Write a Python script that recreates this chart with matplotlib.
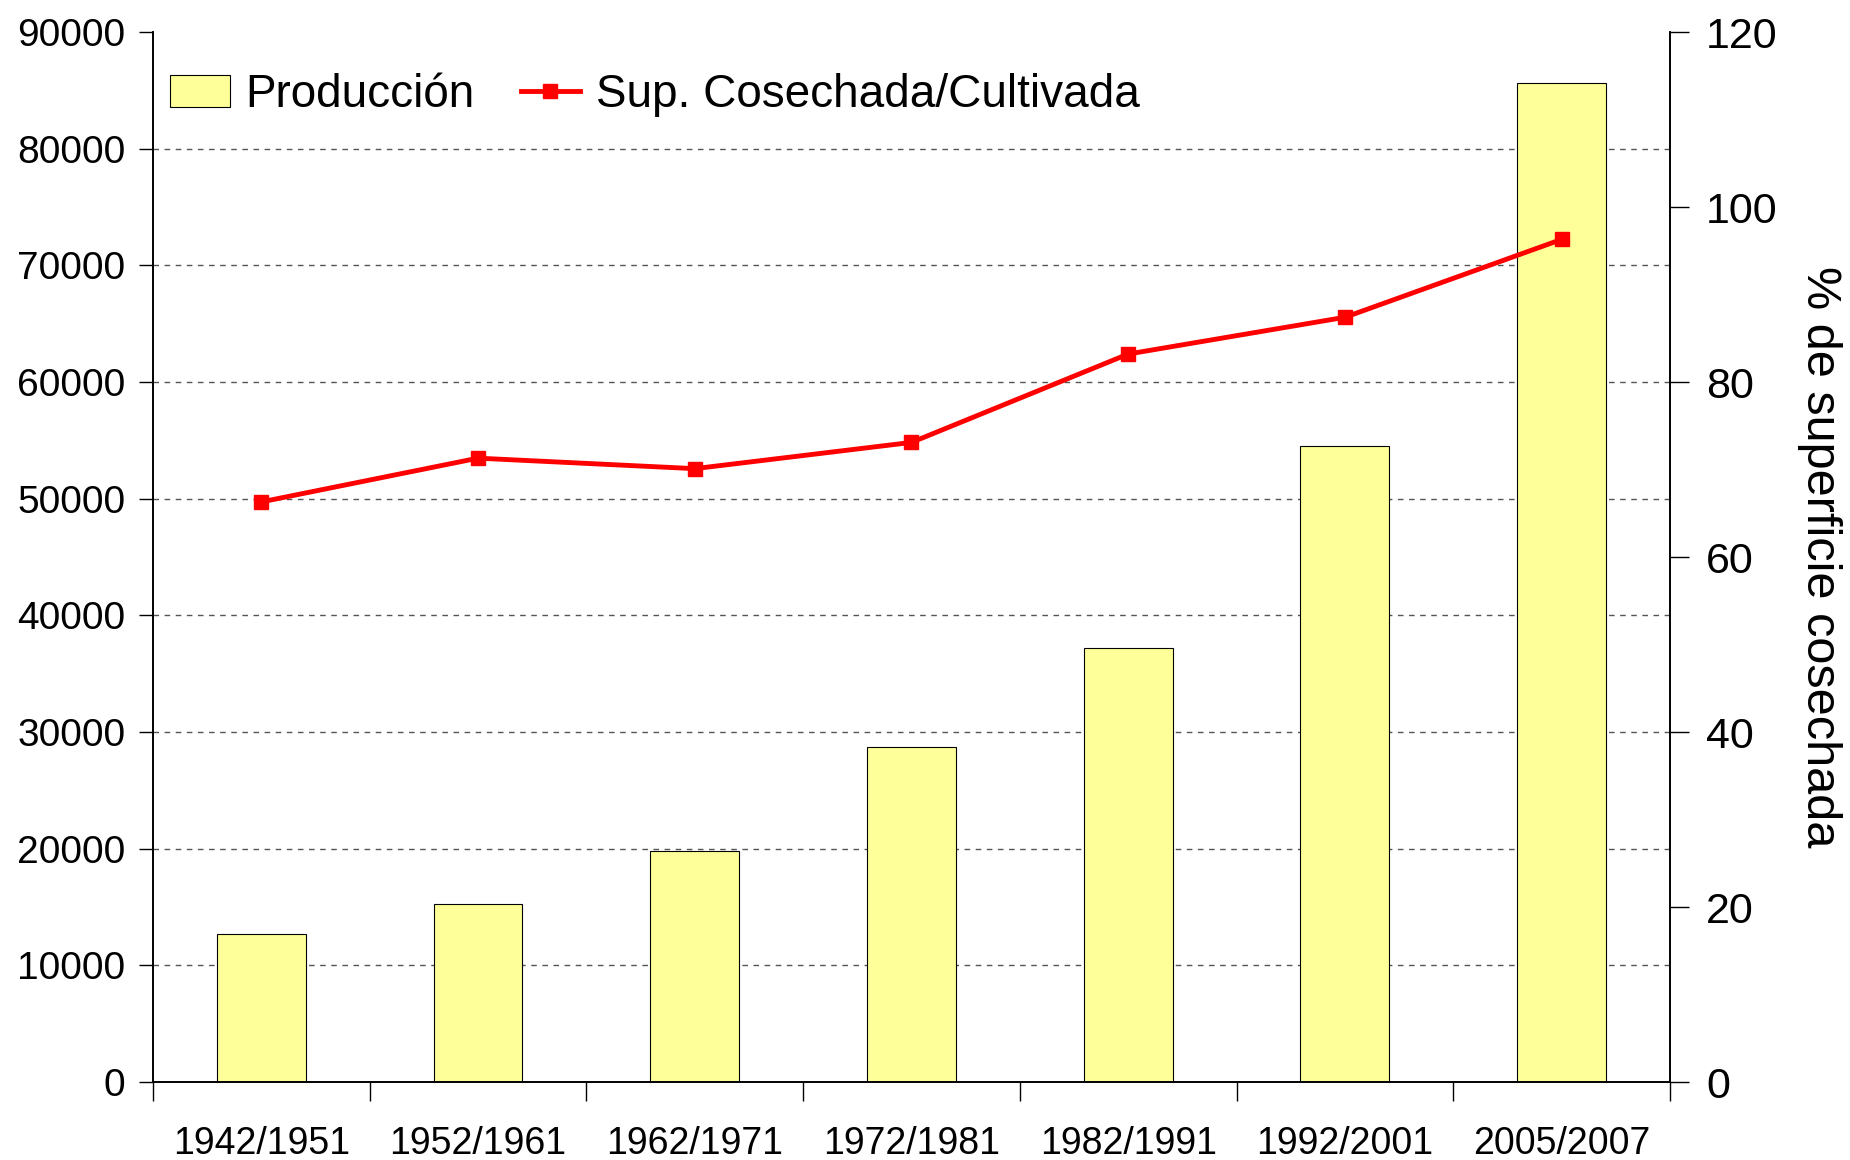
import matplotlib
matplotlib.use("Agg")
import matplotlib.pyplot as plt
import numpy as np

periods = ["1942/1951", "1952/1961", "1962/1971", "1972/1981", "1982/1991", "1992/2001", "2005/2007"]
produccion = [12650, 15300, 19800, 28700, 37200, 54500, 85600]
sup_ratio = [66.3, 71.3, 70.1, 73.1, 83.2, 87.4, 96.3]

wide = ["Liberation Sans", "DejaVu Sans"]

fig = plt.figure(figsize=(18.5, 11.6), dpi=100)
ax = fig.add_axes([0.0827, 0.0672, 0.82, 0.9052])
ax2 = ax.twinx()

x = np.arange(len(periods))
ax.bar(x, produccion, width=0.41, color="#FFFF99", edgecolor="black", linewidth=0.8, zorder=2,
       label="Producción")
ax2.plot(x, sup_ratio, color="#FF0000", lw=3.5, marker="s", markersize=10, zorder=3,
         label="Sup. Cosechada/Cultivada")

ax.set_xlim(-0.5, len(periods) - 0.5)
ax.set_ylim(0, 90000)
ax2.set_ylim(0, 120)

ax.set_yticks(np.arange(0, 90001, 10000))
ax.set_yticklabels([str(v) for v in range(0, 90001, 10000)], fontfamily=wide, fontsize=28)
ax2.set_yticks(np.arange(0, 121, 20))
ax2.set_yticklabels([str(v) for v in range(0, 121, 20)], fontfamily=wide, fontsize=31)

ax.set_xticks(x)
ax.set_xticklabels(periods, fontfamily=wide, fontsize=27)
ax.set_xticks(np.arange(-0.5, len(periods)), minor=True)
ax.tick_params(axis="x", which="major", length=0, pad=32)
ax.tick_params(axis="x", which="minor", length=14, width=1, direction="out")
ax.tick_params(axis="y", length=10, width=1, direction="out", pad=10)
ax2.tick_params(axis="y", length=14, width=1, direction="out", pad=12)

for y in range(10000, 90000, 10000):
    ax.axhline(y, color="#555555", lw=1, ls=(0, (4, 4)), zorder=1)

for a in (ax, ax2):
    a.spines["top"].set_visible(False)
    for s in ("left", "right", "bottom"):
        a.spines[s].set_linewidth(1.2)

ax2.set_ylabel("% de superficie cosechada", rotation=270, fontfamily=wide, fontsize=35, labelpad=46)

h1, l1 = ax.get_legend_handles_labels()
h2, l2 = ax2.get_legend_handles_labels()
leg = ax2.legend(h1 + h2, l1 + l2, loc="upper left", bbox_to_anchor=(-0.016, 1.0), ncol=2,
                 frameon=False, prop={"family": wide, "size": 33}, handlelength=1.3,
                 handletextpad=0.35, columnspacing=1.0)

fig.savefig("out.png", dpi=100)
